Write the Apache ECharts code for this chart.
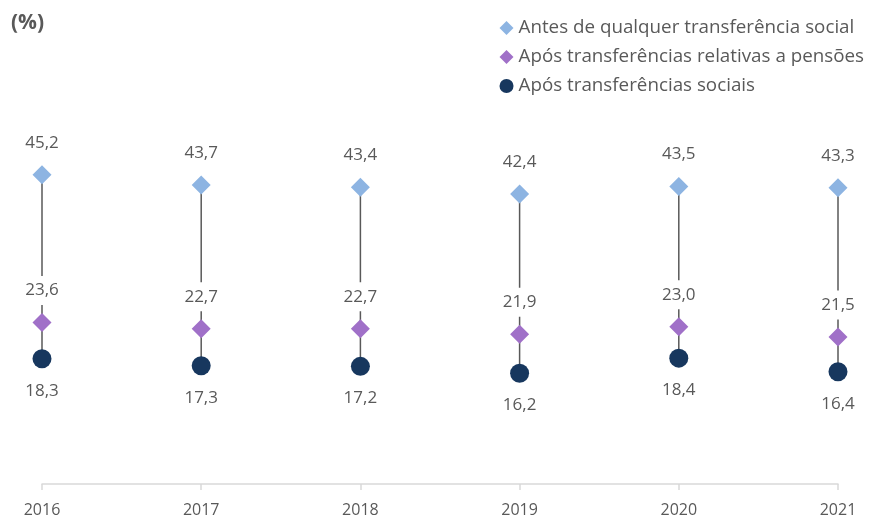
<!DOCTYPE html>
<html>
<head>
<meta charset="utf-8">
<script src="https://cdn.jsdelivr.net/npm/echarts@6/dist/echarts.min.js"></script>
<style>html,body{margin:0;padding:0;background:#fff}#c{width:879px;height:519px}</style>
</head>
<body>
<div id="c"></div>
<script>
var years = ['2016','2017','2018','2019','2020','2021'];
var antes = [45.2, 43.7, 43.4, 42.4, 43.5, 43.3];
var aposPensoes = [23.6, 22.7, 22.7, 21.9, 23.0, 21.5];
var aposSociais = [18.3, 17.3, 17.2, 16.2, 18.4, 16.4];
var seriesNames = ['Antes de qualquer transferência social','Após transferências relativas a pensões','Após transferências sociais'];

var FONT = 'Open Sans';
var TXT = '#595959';
function fmt(p){ return p.value.toFixed(1).replace('.', ','); }

var chart = echarts.init(document.getElementById('c'));
chart.setOption({
  animation: false,
  textStyle: { fontFamily: FONT },
  graphic: [{ type: 'text', left: 11, top: 13, style: { text: '(%)', fontFamily: FONT, fontSize: 21, fontWeight: 'bold', fill: TXT } }],
  legend: {
    orient: 'vertical', right: 10, top: 11, itemGap: 5, itemWidth: 14, itemHeight: 14,
    textStyle: { fontFamily: FONT, fontSize: 18.8, color: TXT, lineHeight: 24 },
    data: [
      { name: seriesNames[0], icon: 'diamond' },
      { name: seriesNames[1], icon: 'diamond' },
      { name: seriesNames[2], icon: 'circle' }
    ]
  },
  grid: { left: 42, right: 41, top: 142, bottom: 35 },
  xAxis: {
    type: 'category', data: years, boundaryGap: false,
    axisLine: { lineStyle: { color: '#D9D9D9', width: 1.5 } },
    axisTick: { show: true, length: 6, lineStyle: { color: '#D9D9D9', width: 1.5 } },
    axisLabel: { color: TXT, fontSize: 16, fontFamily: FONT, margin: 18 }
  },
  yAxis: { type: 'value', min: 0, max: 50, show: false, splitLine: { show: false } },
  series: [
    {
      type: 'custom', z: 1, silent: true,
      data: years.map(function(y, i){ return [i, antes[i], aposSociais[i]]; }),
      renderItem: function(params, api){
        var a = api.coord([api.value(0), api.value(1)]);
        var b = api.coord([api.value(0), api.value(2)]);
        return { type: 'line', shape: { x1: a[0], y1: a[1], x2: b[0], y2: b[1] }, style: { stroke: '#595959', lineWidth: 1.5 } };
      }
    },
    {
      name: seriesNames[0], type: 'scatter', z: 3, symbol: 'diamond', symbolSize: 19,
      itemStyle: { color: '#8DB4E2', opacity: 1 },
      data: antes,
      label: { show: true, position: 'top', distance: 14, color: TXT, fontSize: 17, fontFamily: FONT, formatter: fmt }
    },
    {
      name: seriesNames[1], type: 'scatter', z: 3, symbol: 'diamond', symbolSize: 19,
      itemStyle: { color: '#A070C8', opacity: 1 },
      data: aposPensoes,
      label: { show: true, position: 'top', distance: 8, color: TXT, fontSize: 17, fontFamily: FONT,
        backgroundColor: '#fff', padding: [6, 3], formatter: fmt }
    },
    {
      name: seriesNames[2], type: 'scatter', z: 3, symbol: 'circle', symbolSize: 19,
      itemStyle: { color: '#17375E', opacity: 1 },
      data: aposSociais,
      label: { show: true, position: 'bottom', distance: 14, color: TXT, fontSize: 17, fontFamily: FONT, formatter: fmt }
    }
  ]
});
</script>
</body>
</html>
